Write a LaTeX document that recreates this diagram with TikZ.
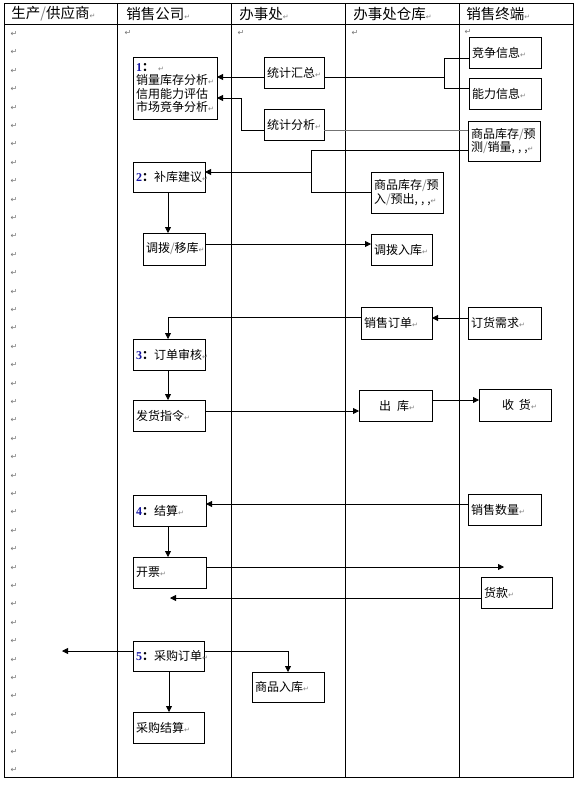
\documentclass[tikz,border=0pt]{standalone}
\usepackage{fontspec}
\setmainfont{Noto Sans CJK SC}
\newfontfamily\djv{DejaVu Sans}
\newfontfamily\lsr{Liberation Serif}
\usetikzlibrary{arrows.meta}
\definecolor{numblue}{RGB}{20,20,160}
\newcommand\retmk{{\djv\fontsize{7}{7}\selectfont\color{black!50}↵}}
\newcommand\gsl{{\color{black!50}/}}
\newcommand\cmx{,\hspace{3pt}}
\newcommand\bnum[1]{{\lsr\bfseries\color{numblue}#1}{\bfseries：}}
\begin{document}
\begin{tikzpicture}[x=1pt,y=-1pt, line width=0.8pt,
  bx/.style={draw, rectangle, anchor=north west, inner xsep=3pt, inner ysep=0pt, outer sep=0pt,
    text width=66pt, minimum height=31pt, align=left, font=\fontsize{12}{13.5}\selectfont},
  arr/.style={-{Triangle[length=6pt,width=6pt]}},
  hd/.style={anchor=west, inner sep=0pt, font=\fontsize{14.5}{15}\selectfont},
  rm/.style={inner sep=0pt, font=\djv\fontsize{8}{8}\selectfont, text=black!55}]
\useasboundingbox (0,0) rectangle (576,785);
% table
\draw (4,3) rectangle (573,777);
\draw (4,24) -- (573,24);
\foreach \x in {117,231,345,459} \draw (\x,3) -- (\x,777);
% headers
\node[hd] (h1) at (11,14) {生产\gsl 供应商\retmk};
\node[hd] (h2) at (126,14) {销售公司\retmk};
\node[hd] (h3) at (239,14) {办事处\retmk};
\node[hd] (h4) at (353,14) {办事处仓库\retmk};
\node[hd] (h5) at (466,14) {销售终端\retmk};
% paragraph marks
\foreach \k in {0,...,40} \node[rm] (lm\k) at (14,{34+18.4*\k}) {↵};
\node[rm] (tm2) at (128,33) {↵};
\node[rm] (tm3) at (241,33) {↵};
\node[rm] (tm4) at (355,33) {↵};
\node[rm] (tm5) at (468,32) {↵};
% boxes
\node[bx] (jz) at (469,37) {竞争信息\retmk};
\node[bx] (nl) at (469,78) {能力信息\retmk};
\node[bx, minimum height=40pt] (kc) at (468,121) {\mbox{商品库存\gsl 预}\\\mbox{测\gsl 销量\cmx\cmx,\retmk}};
\node[bx, text width=78pt, minimum height=62pt] (a1) at (133,57) {\bnum{1}\ \retmk\\销量库存分析\retmk\\信用能力评估\\市场竞争分析\retmk};
\node[bx, text width=54pt] (hz) at (264,57) {统计汇总\retmk};
\node[bx, text width=54pt] (fx) at (264,109) {统计分析\retmk};
\node[bx, minimum height=30pt] (b2) at (133,162) {\bnum{2}补库建议\retmk};
\node[bx, minimum height=41pt] (yr) at (371,172) {\mbox{商品库存\gsl 预}\\\mbox{入\gsl 预出\cmx\cmx,\retmk}};
\node[bx, text width=56pt, minimum height=32pt] (yk) at (143,233) {调拨\gsl 移库\retmk};
\node[bx, text width=55pt] (rk) at (371,234) {调拨入库\retmk};
\node[bx, text width=65pt, minimum height=32pt] (xd) at (361,307) {销售订单\retmk};
\node[bx, text width=67pt, minimum height=32pt] (dh) at (468,307) {订货需求\retmk};
\node[bx] (c3) at (133,339) {\bnum{3}订单审核\retmk};
\node[bx] (fh) at (133,400) {发货指令\retmk};
\node[bx, text width=67pt] (ck) at (359,390) {\hspace*{17pt}出\hspace{6pt}库\retmk};
\node[bx, minimum height=32pt] (sh) at (479,389) {\hspace*{20pt}收\hspace{5pt}货\retmk};
\node[bx, text width=67pt] (d4) at (133,495) {\bnum{4}结算\retmk};
\node[bx, text width=67pt] (xs) at (468,494) {销售数量\retmk};
\node[bx, text width=67pt] (kp) at (133,557) {开票\retmk};
\node[bx, text width=65pt] (hk) at (481,577) {货款\retmk};
\node[bx, text width=65pt, minimum height=30pt] (e5) at (133,641) {\bnum{5}采购订单\retmk};
\node[bx, minimum height=30pt] (sp) at (252,672) {商品入库\retmk};
\node[bx, text width=65pt] (cj) at (133,712) {采购结算\retmk};
% connectors
\coordinate (jzp) at (444,58);
\coordinate (nlp) at (444,88);
\coordinate (j1) at (444,77);
\draw (jz.west |- jzp) -- (jzp) -- (nlp) -- (nl.west |- nlp);
\draw (j1) -- (hz.east |- j1);
\draw[arr] (hz.west |- j1) -- (a1.east |- j1);
\coordinate (f1) at (241,130);
\coordinate (f2) at (241,98);
\draw[draw=black!55] (kc.west |- f1) -- (fx.east |- f1);
\draw[arr] (fx.west |- f1) -- (f1) -- (f2) -- (a1.east |- f2);
\coordinate (k1) at (311,150);
\coordinate (k2) at (311,192);
\coordinate (k3) at (311,172);
\draw (kc.west |- k1) -- (k1) -- (k2) -- (yr.west |- k2);
\draw[arr] (k3) -- (b2.east |- k3);
\coordinate (v1) at (168,0);
\draw[arr] (b2.south -| v1) -- (yk.north -| v1);
\coordinate (y1) at (0,244);
\draw[arr] (yk.east |- y1) -- (rk.west |- y1);
\coordinate (y2) at (0,318);
\draw[arr] (dh.west |- y2) -- (xd.east |- y2);
\coordinate (y3) at (168,317);
\draw[arr] (xd.west |- y3) -- (y3) -- (c3.north -| y3);
\draw[arr] (c3.south -| v1) -- (fh.north -| v1);
\coordinate (y4) at (0,411);
\draw[arr] (fh.east |- y4) -- (ck.west |- y4);
\coordinate (y5) at (0,400);
\draw[arr] (ck.east |- y5) -- (sh.west |- y5);
\coordinate (y6) at (0,504);
\draw[arr] (xs.west |- y6) -- (d4.east |- y6);
\draw[arr] (d4.south -| v1) -- (kp.north -| v1);
\coordinate (t1) at (504,567);
\draw[arr] (kp.east |- t1) -- (t1);
\coordinate (t2) at (170,598);
\draw[arr] (hk.west |- t2) -- (t2);
\coordinate (t3) at (62,651);
\draw[arr] (e5.west |- t3) -- (t3);
\coordinate (t4) at (288,651);
\draw[arr] (e5.east |- t4) -- (t4) -- (sp.north -| t4);
\coordinate (v2) at (169,0);
\draw[arr] (e5.south -| v2) -- (cj.north -| v2);
\end{tikzpicture}
\end{document}
